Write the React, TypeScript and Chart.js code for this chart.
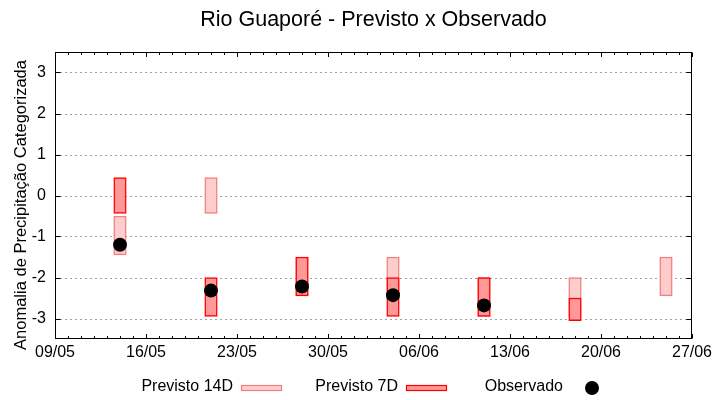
import React, { useEffect, useRef } from "react";
import { Chart, registerables } from "chart.js";

Chart.register(...registerables);

const FONT = '"Liberation Sans", Arial, Helvetica, sans-serif';

const chartTitle = "Rio Guaporé - Previsto x Observado";
const yAxisTitle = "Anomalia de Precipitação Categorizada";

// x axis: days counted from 09/05
const xTickDays = [0, 7, 14, 21, 28, 35, 42, 49];
const xTickLabels = ["09/05", "16/05", "23/05", "30/05", "06/06", "13/06", "20/06", "27/06"];
const yTickValues = [-3, -2, -1, 0, 1, 2, 3];

const forecast14Days = [5, 12, 19, 26, 33, 40, 47];
const forecast14Low = [-1.45, -0.44, -2.45, -2.45, -2.95, -2.95, -2.45];
const forecast14High = [-0.5, 0.44, -1.5, -1.5, -2.0, -2.0, -1.5];

const forecast7Days = [5, 12, 19, 26, 33, 40];
const forecast7Low = [-0.44, -2.95, -2.45, -2.95, -2.95, -3.05];
const forecast7High = [0.44, -2.0, -1.5, -2.0, -2.0, -2.5];

const observedDays = [5, 12, 19, 26, 33];
const observedValues = [-1.2, -2.32, -2.22, -2.43, -2.68];

const C14_FILL = "#ffcccc";
const C14_BORDER = "#f08080";
const C7_FILL = "#ff9999";
const C7_BORDER = "#ff0000";

const gnuplotDecor = {
  id: "gnuplotDecor",
  beforeDatasetsDraw(chart: any) {
    const { ctx, chartArea: a, scales } = chart;
    const y = scales.y;
    ctx.save();
    ctx.strokeStyle = "#a0a0a0";
    ctx.lineWidth = 1;
    ctx.setLineDash([2, 3]);
    yTickValues.forEach((v) => {
      const py = Math.round(y.getPixelForValue(v)) + 0.5;
      ctx.beginPath();
      ctx.moveTo(a.left, py);
      ctx.lineTo(a.right, py);
      ctx.stroke();
    });
    ctx.restore();
  },
  afterDatasetsDraw(chart: any) {
    const { ctx, chartArea: a, scales } = chart;
    const x = scales.x;
    const y = scales.y;
    const L = Math.round(a.left) + 0.5;
    const R = Math.round(a.right) - 0.5;
    const T = Math.round(a.top) + 0.5;
    const B = Math.round(a.bottom) - 0.5;
    ctx.save();
    ctx.strokeStyle = "#000";
    ctx.lineWidth = 1;
    ctx.setLineDash([]);
    ctx.strokeRect(L, T, R - L, B - T);
    ctx.beginPath();
    for (let d = xTickDays[0]; d <= xTickDays[xTickDays.length - 1]; d++) {
      const px = Math.round(x.getPixelForValue(d)) + 0.5;
      const len = xTickDays.indexOf(d) >= 0 ? 4.5 : 2.5;
      ctx.moveTo(px, B);
      ctx.lineTo(px, B - len);
      ctx.moveTo(px, T);
      ctx.lineTo(px, T + len);
    }
    yTickValues.forEach((v) => {
      const py = Math.round(y.getPixelForValue(v)) + 0.5;
      ctx.moveTo(L, py);
      ctx.lineTo(L + 5, py);
      ctx.moveTo(R, py);
      ctx.lineTo(R - 5, py);
    });
    ctx.stroke();
    ctx.restore();
  },
  afterDraw(chart: any) {
    const { ctx, chartArea: a } = chart;
    // chart title, centred over the plot area
    ctx.save();
    ctx.fillStyle = "#000";
    ctx.font = `21.5px ${FONT}`;
    ctx.textAlign = "center";
    ctx.textBaseline = "middle";
    ctx.fillText(chartTitle, (a.left + a.right) / 2, 20);
    ctx.restore();

    // y axis title
    ctx.save();
    ctx.translate(21, 205);
    ctx.rotate(-Math.PI / 2);
    ctx.fillStyle = "#000";
    ctx.font = `16.5px ${FONT}`;
    ctx.textAlign = "center";
    ctx.textBaseline = "middle";
    ctx.fillText(yAxisTitle, 0, 0);
    ctx.restore();

    // legend (gnuplot style: text right-aligned, then sample)
    ctx.save();
    ctx.font = `16px ${FONT}`;
    ctx.textAlign = "right";
    ctx.textBaseline = "middle";
    const ds = chart.data.datasets;
    const legendOrder = [2, 1, 0];
    legendOrder.forEach((di: number, col: number) => {
      const d = ds[di];
      const textRight = 233 + 165 * col;
      ctx.fillStyle = "#000";
      ctx.fillText(d.label, textRight, 386.5);
      const sx = textRight + 8;
      if (d.type === "scatter") {
        ctx.beginPath();
        ctx.arc(sx + 21, 388, 7, 0, Math.PI * 2);
        ctx.fillStyle = "#000";
        ctx.fill();
      } else {
        ctx.fillStyle = d.backgroundColor;
        ctx.fillRect(sx, 385, 41, 6);
        ctx.strokeStyle = d.borderColor;
        ctx.lineWidth = 1.2;
        ctx.strokeRect(sx + 0.5, 385.5, 40, 5);
      }
    });
    ctx.restore();
  },
};

export default function App() {
  const ref = useRef<HTMLCanvasElement>(null);
  useEffect(() => {
    document.body.style.margin = "0";
    Chart.defaults.font.family = FONT;
    Chart.defaults.color = "#000";
    const chart = new Chart(ref.current!, {
      type: "bar",
      data: {
        datasets: [
          {
            type: "scatter",
            label: "Observado",
            data: observedDays.map((d, i) => ({ x: d, y: observedValues[i] })),
            pointRadius: 7,
            pointBackgroundColor: "#000",
            pointBorderColor: "#000",
            pointBorderWidth: 0,
            backgroundColor: "#000",
            borderColor: "#000",
            order: 0,
          } as any,
          {
            type: "bar",
            label: "Previsto 7D",
            data: forecast7Days.map((d, i) => ({ x: d, y: [forecast7Low[i], forecast7High[i]] })),
            backgroundColor: C7_FILL,
            borderColor: C7_BORDER,
            borderWidth: 1.5,
            borderSkipped: false,
            barThickness: 12.5,
            grouped: false,
            order: 1,
          } as any,
          {
            type: "bar",
            label: "Previsto 14D",
            data: forecast14Days.map((d, i) => ({ x: d, y: [forecast14Low[i], forecast14High[i]] })),
            backgroundColor: C14_FILL,
            borderColor: C14_BORDER,
            borderWidth: 1.5,
            borderSkipped: false,
            barThickness: 12.5,
            grouped: false,
            order: 2,
          } as any,
        ],
      },
      options: {
        responsive: false,
        animation: false,
        events: [],
        layout: { padding: { left: 0, right: 28, top: 52, bottom: 31 } },
        plugins: {
          legend: { display: false },
          tooltip: { enabled: false },
          title: { display: false },
        },
        scales: {
          x: {
            type: "linear",
            min: xTickDays[0],
            max: xTickDays[xTickDays.length - 1],
            offset: false,
            grid: { display: false, drawTicks: false, offset: false },
            border: { display: false },
            afterBuildTicks: (s: any) => {
              s.ticks = xTickDays.map((v) => ({ value: v }));
            },
            afterFit: (s: any) => {
              s.height = 30;
            },
            ticks: {
              autoSkip: false,
              maxRotation: 0,
              padding: 4,
              color: "#000",
              font: { size: 16, family: FONT },
              callback: (v: any) => {
                const i = xTickDays.indexOf(Number(v));
                return i >= 0 ? xTickLabels[i] : "";
              },
            },
          },
          y: {
            type: "linear",
            min: -3.5,
            max: 3.5,
            grid: { display: false, drawTicks: false },
            border: { display: false },
            afterBuildTicks: (s: any) => {
              s.ticks = yTickValues.map((v) => ({ value: v }));
            },
            afterFit: (s: any) => {
              s.width = 55;
            },
            ticks: {
              padding: 9,
              color: "#000",
              font: { size: 16, family: FONT },
              callback: (v: any) => String(v),
            },
          },
        },
      } as any,
      plugins: [gnuplotDecor],
    } as any);
    return () => chart.destroy();
  }, []);
  return (
    <div style={{ position: "absolute", left: 0, top: 0, width: 720, height: 400, background: "#fff" }}>
      <canvas ref={ref} width={720} height={400} style={{ display: "block" }} />
    </div>
  );
}
